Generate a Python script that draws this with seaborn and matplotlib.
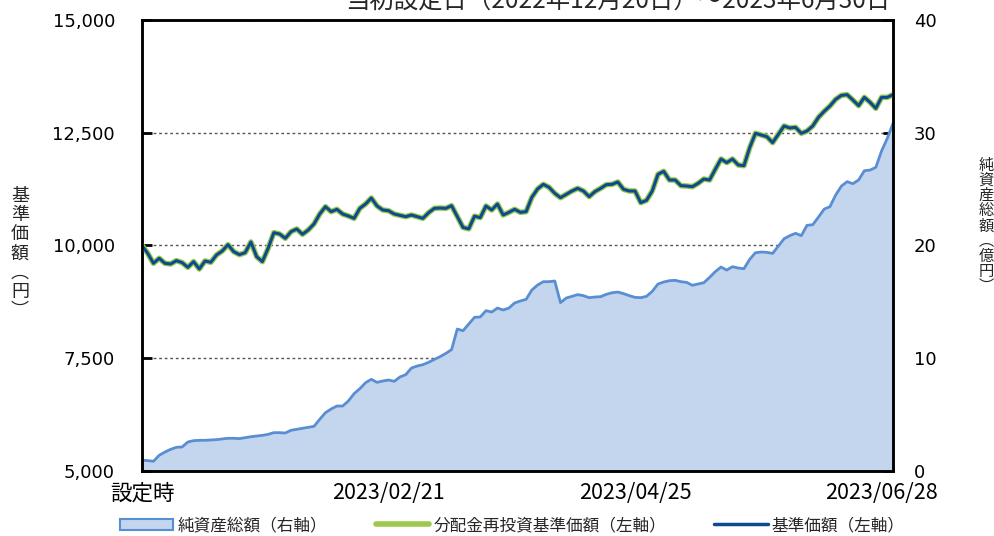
import matplotlib
matplotlib.use("Agg")
import pandas as pd
import seaborn as sns
from matplotlib import pyplot as plt
from matplotlib.patches import Patch
from matplotlib.lines import Line2D

sns.set_style("white")
plt.rcParams["font.family"] = ["Noto Sans CJK JP", "DejaVu Sans"]

title = "当初設定日（2022年12月20日）～2023年6月30日"
tick_positions = [0, 43, 86, 129]
tick_labels = ["設定時", "2023/02/21", "2023/04/25", "2023/06/28"]
left_ticks = [5000, 7500, 10000, 12500, 15000]
right_ticks = [0, 10, 20, 30, 40]
legend_labels = ["純資産総額（右軸）", "分配金再投資基準価額（左軸）", "基準価額（左軸）"]
left_label = ["基", "準", "価", "額", "︵", "円", "︶"]
right_label = ["純", "資", "産", "総", "額", "︵", "億", "円", "︶"]

# 基準価額 (円), one value per business day from the launch date
nav = [10000, 9826, 9605, 9716, 9605, 9590, 9664, 9620, 9516, 9642,
       9479, 9657, 9627, 9790, 9878, 10018, 9863, 9797, 9841, 10078,
       9752, 9642, 9937, 10284, 10255, 10159, 10307, 10366, 10248, 10344,
       10477, 10698, 10861, 10750, 10802, 10698, 10654, 10602, 10824, 10920,
       11053, 10876, 10787, 10772, 10698, 10669, 10639, 10676, 10639, 10602,
       10728, 10824, 10831, 10824, 10883, 10639, 10400, 10370, 10650, 10617,
       10876, 10787, 10920, 10676, 10735, 10802, 10735, 10750, 11068, 11253,
       11356, 11290, 11157, 11060, 11134, 11208, 11267, 11208, 11083, 11194,
       11267, 11349, 11356, 11408, 11245, 11208, 11208, 10949, 11001, 11208,
       11578, 11644, 11452, 11452, 11326, 11319, 11304, 11378, 11474, 11452,
       11689, 11918, 11837, 11918, 11785, 11770, 12169, 12487, 12450, 12413,
       12280, 12465, 12650, 12605, 12620, 12487, 12539, 12650, 12842, 12975,
       13093, 13241, 13329, 13344, 13226, 13100, 13285, 13174, 13041, 13285,
       13285, 13344]
# no distributions so far -> reinvested NAV is the same series
reinvested_nav = list(nav)

# 純資産総額 (億円)
net_assets = [0.95, 0.92, 0.86, 1.39, 1.68, 1.92, 2.10, 2.13, 2.57, 2.69,
              2.72, 2.72, 2.75, 2.78, 2.84, 2.90, 2.90, 2.87, 2.96, 3.04,
              3.10, 3.16, 3.25, 3.40, 3.40, 3.37, 3.61, 3.70, 3.78, 3.87,
              3.96, 4.58, 5.17, 5.50, 5.76, 5.76, 6.21, 6.86, 7.30, 7.83,
              8.13, 7.86, 7.98, 8.07, 7.95, 8.34, 8.54, 9.13, 9.31, 9.43,
              9.64, 9.90, 10.14, 10.43, 10.76, 12.59, 12.44, 13.04, 13.63, 13.66,
              14.22, 14.10, 14.45, 14.28, 14.45, 14.90, 15.08, 15.22, 16.05, 16.49,
              16.79, 16.79, 16.85, 14.93, 15.34, 15.49, 15.64, 15.55, 15.37, 15.43,
              15.46, 15.67, 15.81, 15.87, 15.73, 15.55, 15.40, 15.37, 15.49, 15.93,
              16.58, 16.76, 16.88, 16.91, 16.79, 16.73, 16.47, 16.58, 16.70, 17.17,
              17.68, 18.09, 17.82, 18.12, 18.00, 17.94, 18.77, 19.36, 19.42, 19.39,
              19.30, 19.95, 20.60, 20.87, 21.08, 20.87, 21.79, 21.84, 22.52, 23.23,
              23.44, 24.48, 25.27, 25.66, 25.48, 25.81, 26.63, 26.69, 26.93, 28.38,
              29.50, 30.83]

df = pd.DataFrame({"day": range(len(nav)), "nav": nav,
                   "reinvested": reinvested_nav, "assets": net_assets})

bg_color = "#FDFDE7"
area_fill = "#C4D5EE"
area_edge = "#5A8ED2"
green = "#9DC84E"
navy = "#0C4B8E"

fig = plt.figure(figsize=(9.95, 5.36), dpi=100)
ax = fig.add_axes([0.1427, 0.1213, 0.7548, 0.8414])
ax2 = ax.twinx()

# left axis (lines) on top of the right axis (area)
ax.set_zorder(ax2.get_zorder() + 1)
ax.patch.set_visible(False)
ax2.set_facecolor(bg_color)

# net assets area on the right axis
ax2.fill_between(df["day"], df["assets"], 0, color=area_fill, lw=0, zorder=1)
sns.lineplot(data=df, x="day", y="assets", ax=ax2, color=area_edge, lw=2.0, zorder=2)
ax2.set_ylim(0, 40)
ax2.set_yticks(right_ticks)
ax2.set_yticklabels([str(v) for v in right_ticks], fontfamily="DejaVu Sans")
ax2.yaxis.grid(True, linestyle=(0, (2, 2)), color="#555555", lw=1.0)
ax2.set_axisbelow(True)
ax2.set_ylabel("")

# NAV lines on the left axis
sns.lineplot(data=df, x="day", y="reinvested", ax=ax, color=green, lw=4.0)
sns.lineplot(data=df, x="day", y="nav", ax=ax, color=navy, lw=2.2)
ax.set_xlim(0, len(nav) - 1)
ax.set_ylim(5000, 15000)
ax.set_yticks(left_ticks)
ax.set_yticklabels([f"{v:,}" for v in left_ticks], fontfamily="DejaVu Sans")
ax.set_xticks(tick_positions)
ax.set_xticklabels(tick_labels)
ax.set_xlabel("")
ax.set_ylabel("")

ax.tick_params(axis="y", direction="in", length=7, width=2, pad=19.5, labelsize=13, colors="black")
ax.tick_params(axis="x", direction="in", length=7, width=2, pad=8, labelsize=15.5, colors="black")
ax2.tick_params(axis="y", direction="in", length=7, width=2, pad=15, labelsize=13, colors="black")

for a in (ax, ax2):
    for sp in a.spines.values():
        sp.set_color("black")
        sp.set_linewidth(1.8)

# vertical axis titles, one character per row (pixel positions from the top)
for k, ch in enumerate(left_label):
    yp = 196 + k * 19.2
    fig.text(20 / 995, 1 - yp / 536, ch, ha="center", va="center", fontsize=13)
for k, ch in enumerate(right_label):
    yp = 165 + k * 15.2
    fig.text(986 / 995, 1 - yp / 536, ch, ha="center", va="center", fontsize=11)

fig.text(0.621, 0.985, title, ha="center", va="baseline", fontsize=17.6)

handles = [Patch(facecolor=area_fill, edgecolor=area_edge, lw=1.5),
           Line2D([], [], color=green, lw=4),
           Line2D([], [], color=navy, lw=2.5)]
fig.legend(handles, legend_labels, loc="center", bbox_to_anchor=(0.515, 0.019), ncol=3,
           frameon=False, fontsize=12, handlelength=3.2, handletextpad=0.25,
           columnspacing=2.9, borderpad=0)

fig.savefig("out.png", dpi=100)
